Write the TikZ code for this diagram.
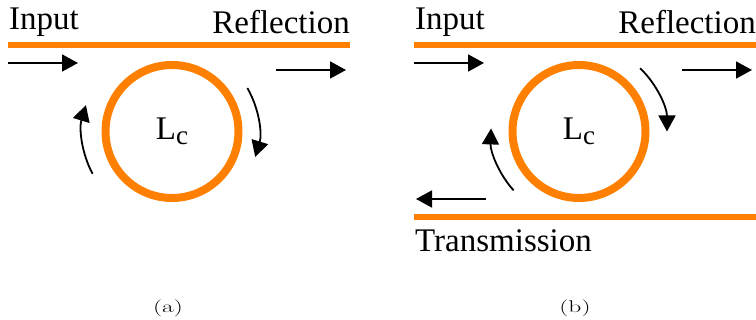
\documentclass[tikz,border=0pt]{standalone}
\usepackage{fontspec}
\setmainfont{Liberation Serif}
\newfontfamily\tnrfont{Liberation Serif}
\newfontfamily\lmfont{Latin Modern Roman}
\usetikzlibrary{arrows.meta}
\definecolor{wg}{RGB}{255,128,0}
\tikzset{
  guide/.style={draw=wg, line width=6.5pt},
  ring/.style={circle, draw=wg, line width=8pt, minimum size=133pt, inner sep=0pt,
    font=\tnrfont\fontsize{33}{33}\selectfont},
  flow/.style={draw=black, line width=1.8pt, -{Triangle[length=16pt,width=17pt]}},
  lbl/.style={inner sep=0pt, font=\tnrfont\fontsize{33}{33}\selectfont},
  captext/.style={inner sep=0pt, font=\lmfont\fontsize{17}{17}\selectfont}
}
\newcommand{\Lcsym}{L\raisebox{-5pt}{\tnrfont\fontsize{27}{27}\selectfont c}}
\begin{document}
\begin{tikzpicture}[x=1pt,y=1pt]
\useasboundingbox (0,0) rectangle (756,320);
% ---------- panel (a) ----------
\coordinate (a1) at (8,275);
\coordinate (a2) at (350,275);
\draw[guide] (a1) -- (a2);
\node[lbl, anchor=base west] (ain) at (9,290) {Input};
\node[lbl, anchor=base east] (aref) at (350,286) {Reflection};
\coordinate (ai1) at (8,257); \coordinate (ai2) at (78,257);
\draw[flow] (ai1) -- (ai2);
\coordinate (ao1) at (276,250); \coordinate (ao2) at (346,250);
\draw[flow] (ao1) -- (ao2);
\node[ring] (ca) at (172,188.5) {\Lcsym};
\draw[flow] ([shift={(30:87)}]ca.center) arc[start angle=30, end angle=-17, radius=87];
\draw[flow] ([shift={(208:90)}]ca.center) arc[start angle=208, end angle=163, radius=90];
\node[captext] (capa) at (168,12) {\scalebox{1.5}[1]{(a)}};
% ---------- panel (b) ----------
\coordinate (b1) at (414,275);
\coordinate (b2) at (756,275);
\draw[guide] (b1) -- (b2);
\coordinate (b3) at (414,103);
\coordinate (b4) at (756,103);
\draw[guide] (b3) -- (b4);
\node[lbl, anchor=base west] (bin) at (415,290) {Input};
\node[lbl, anchor=base east] (bref) at (756,286) {Reflection};
\node[lbl, anchor=base west] (btr) at (415,68) {Transmission};
\coordinate (bi1) at (414,257); \coordinate (bi2) at (484,257);
\draw[flow] (bi1) -- (bi2);
\coordinate (bo1) at (682,250); \coordinate (bo2) at (752,250);
\draw[flow] (bo1) -- (bo2);
\coordinate (bt1) at (486,121); \coordinate (bt2) at (416,121);
\draw[flow] (bt1) -- (bt2);
\node[ring] (cb) at (579,188.5) {\Lcsym};
\draw[flow] ([shift={(46:88)}]cb.center) arc[start angle=46, end angle=0, radius=88];
\draw[flow] ([shift={(222:88)}]cb.center) arc[start angle=222, end angle=178, radius=88];
\node[captext] (capb) at (575,12) {\scalebox{1.5}[1]{(b)}};
\end{tikzpicture}
\end{document}
